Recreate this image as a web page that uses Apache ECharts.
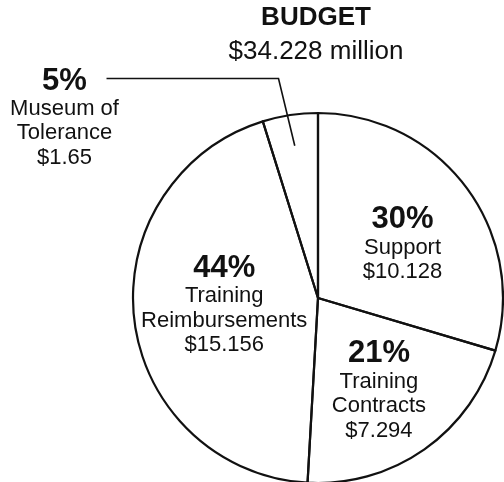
<!DOCTYPE html>
<html>
<head>
<meta charset="utf-8">
<script src="https://cdn.jsdelivr.net/npm/echarts@6/dist/echarts.min.js"></script>
<style>
  html, body { margin: 0; padding: 0; background: #fff; }
  #chart { width: 504px; height: 482px; }
</style>
</head>
<body>
<div id="chart"></div>
<script>
// ---- data ----
const categories = ['Support', 'Training\nContracts', 'Training\nReimbursements', 'Museum of\nTolerance'];
const amounts = [10.128, 7.294, 15.156, 1.65];
const titleText = 'BUDGET';
const subtitleText = '$34.228 million';

// ---- layout helpers (not data) ----
const FONT = '"Liberation Sans", Arial, Helvetica, sans-serif';
const labelShift = [[8, 4], [6, 15], [1, -4]]; // fine offsets for inner labels

const chart = echarts.init(document.getElementById('chart'), null, { renderer: 'canvas' });

const pieData = categories.map((name, i) => {
  const item = { name: name, value: amounts[i] };
  if (i === 3) {
    item.label = { position: 'outside' };
    item.labelLine = { show: true, showAbove: true, length: 37, length2: 178, smooth: false };
  }
  return item;
});

chart.setOption({
  animation: false,
  backgroundColor: '#fff',
  title: {
    text: titleText,
    subtext: subtitleText,
    left: 311,
    top: 0,
    textAlign: 'center',
    itemGap: 8,
    textStyle: { fontFamily: FONT, fontSize: 26, fontWeight: 'bold', color: '#111' },
    subtextStyle: { fontFamily: FONT, fontSize: 26, color: '#111' }
  },
  series: [{
    type: 'pie',
    center: [318, 298],
    radius: 185,
    startAngle: 90,
    clockwise: true,
    avoidLabelOverlap: false,
    emphasis: { disabled: true },
    itemStyle: { color: 'rgba(255,255,255,0)', borderColor: '#111', borderWidth: 2.2 },
    label: {
      show: true,
      position: 'inner',
      color: '#111',
      fontFamily: FONT,
      formatter: function (p) {
        const lines = p.name.split('\n').map(s => '{t|' + s + '}');
        return '{p|' + Math.round(p.percent) + '%}\n' + lines.join('\n') + '\n{t|$' + p.value + '}';
      },
      rich: {
        p: { fontFamily: FONT, fontSize: 31, fontWeight: 'bold', color: '#111', lineHeight: 31, align: 'center' },
        t: { fontFamily: FONT, fontSize: 22, color: '#111', lineHeight: 24.5, align: 'center' }
      }
    },
    labelLine: { show: false, showAbove: true, lineStyle: { color: '#111', width: 1.6 } },
    labelLayout: function (params) {
      const i = params.dataIndex;
      const r = params.labelRect;
      if (i === 3) {
        const pts = params.labelLinePoints;
        if (!pts) return {};
        const p0 = pts[0], p1 = pts[1], p2 = pts[2];
        const dx = p1[0] - p0[0], dy = p1[1] - p0[1];
        const len = Math.sqrt(dx * dx + dy * dy) || 1;
        const inward = 31;
        const q0 = [p0[0] - dx / len * inward, p0[1] - dy / len * inward];
        const q1 = [p1[0] - 6, p1[1]];
        return {
          x: p2[0] - 42,
          y: p2[1] - 13,
          align: 'center',
          verticalAlign: 'top',
          labelLinePoints: [q0, q1, p2]
        };
      }
      const s = labelShift[i] || [0, 0];
      return {
        x: r.x + r.width / 2 + s[0],
        y: r.y + r.height / 2 + s[1],
        align: 'center',
        verticalAlign: 'middle'
      };
    },
    data: pieData
  }]
});
</script>
</body>
</html>
